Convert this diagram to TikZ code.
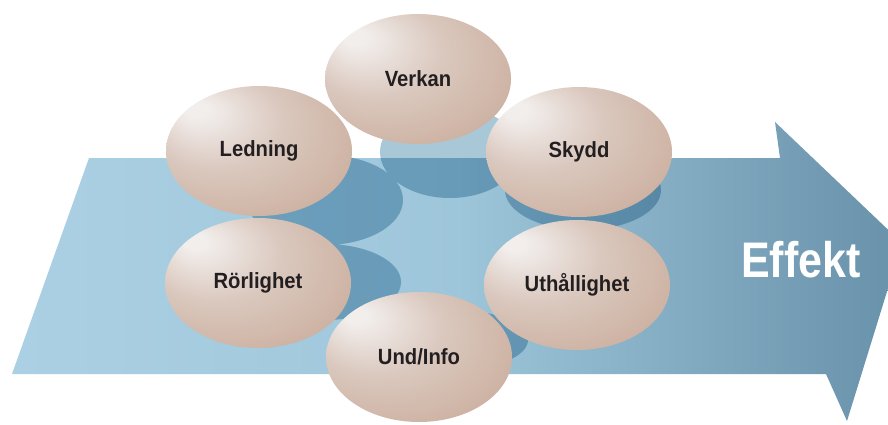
\documentclass[tikz,border=0pt]{standalone}
\usepackage{fontspec}
\usepackage{graphicx}
\usetikzlibrary{shapes.geometric}
\newfontfamily\labfont{Liberation Sans}
\newcommand{\condlab}[1]{\scalebox{0.92}[1]{#1}}
\definecolor{arrowL}{RGB}{172,208,227}
\definecolor{arrowM}{RGB}{158,198,218}
\definecolor{arrowR}{RGB}{104,145,170}
\definecolor{shadowC}{RGB}{168,200,216}
\definecolor{eggA}{RGB}{242,238,236}
\definecolor{eggB}{RGB}{218,200,190}
\definecolor{eggC}{RGB}{204,176,160}
\definecolor{eggD}{RGB}{184,142,120}
\definecolor{eggE}{RGB}{160,114,90}
\definecolor{labC}{RGB}{35,31,32}
\pgfdeclareradialshading{eggball}{\pgfpoint{-18bp}{17bp}}{%
  color(0bp)=(eggA); color(3bp)=(eggA); color(18bp)=(eggB);
  color(35bp)=(eggC); color(46bp)=(eggD); color(50bp)=(eggE)}
\tikzset{
  egg/.style={ellipse, shading=eggball, minimum width=186pt, minimum height=130pt,
    inner sep=0pt, text=labC, font=\labfont\bfseries\fontsize{22}{26}\selectfont},
  shadowfill/.style={fill=shadowC, draw=none, blend mode=multiply},
  bigarrow/.style={draw=none, left color=arrowL, right color=arrowR, middle color=arrowM}
}
\begin{document}
\begin{tikzpicture}[x=1pt,y=-1pt]
\useasboundingbox (0,0) rectangle (888,425);
\clip (0,0) rectangle (888,425);
\fill[white] (0,0) rectangle (888,425);
% arrow
\path[bigarrow] (89,158) -- (780,158) -- (775,122) -- (902,243) -- (847,421)
  -- (826,374) -- (12,374) -- cycle;
% shadows
\path[shadowfill]
  (450,152) ellipse [x radius=70, y radius=46]
  (325,200) ellipse [x radius=78, y radius=45]
  (325,282) ellipse [x radius=76, y radius=38]
  (583,190) ellipse [x radius=78, y radius=40]
  (455,340) ellipse [x radius=73, y radius=30];
% balls
\node[egg] (verkan) at (418,79) {\condlab{Verkan}};
\node[egg] (ledning) at (259,151) {\condlab{Ledning}};
\node[egg] (skydd) at (579,152) {\condlab{Skydd}};
\node[egg] (rorlighet) at (258,283) {\condlab{Rörlighet}};
\node[egg] (uthallighet) at (577,285) {\condlab{Uthållighet}};
\node[egg] (undinfo) at (419,357) {\condlab{Und/Info}};
% label
\node[text=white, font=\labfont\bfseries\fontsize{50}{56}\selectfont, inner sep=0pt]
  (effekt) at (801,260) {\scalebox{0.86}[1]{Effekt}};
\end{tikzpicture}
\end{document}
